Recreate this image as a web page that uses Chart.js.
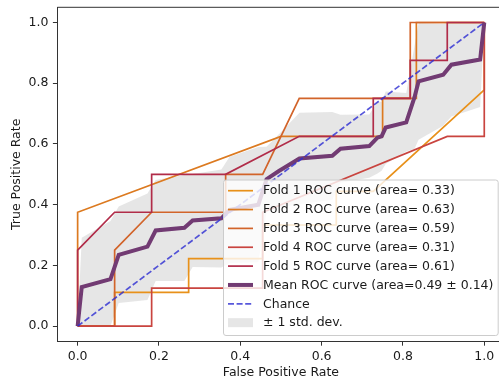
<!DOCTYPE html>
<html>
<head>
<meta charset="utf-8">
<script src="https://cdn.jsdelivr.net/npm/chart.js@4.4.1/dist/chart.umd.min.js"></script>
<style>
  html, body { margin: 0; padding: 0; overflow: hidden; background: #fff; }
  canvas { display: block; }
</style>
</head>
<body>
<canvas id="roc" width="506" height="381"></canvas>
<script>
// ── Datos ────────────────────────────────────────────────
var fold1Fpr = [0, 0.091, 0.091, 0.273, 0.273, 0.455, 0.455, 0.636, 0.636, 0.727, 1.0, 1.0];
var fold1Tpr = [0, 0, 0.111, 0.111, 0.222, 0.222, 0.333, 0.333, 0.444, 0.444, 0.778, 1.0];

var fold2Fpr = [0, 0, 0.5, 0.75, 0.75, 0.833, 0.833, 1.0];
var fold2Tpr = [0, 0.375, 0.625, 0.625, 0.75, 0.75, 1.0, 1.0];

var fold3Fpr = [0, 0.091, 0.091, 0.182, 0.364, 0.364, 0.455, 0.545, 0.818, 0.818, 1.0];
var fold3Tpr = [0, 0, 0.25, 0.375, 0.375, 0.5, 0.5, 0.75, 0.75, 1.0, 1.0];

var fold4Fpr = [0, 0.182, 0.182, 0.455, 0.455, 0.909, 1.0, 1.0];
var fold4Tpr = [0, 0, 0.125, 0.125, 0.375, 0.625, 0.625, 1.0];

var fold5Fpr = [0, 0, 0.091, 0.182, 0.182, 0.364, 0.545, 0.727, 0.727, 0.818, 0.818, 0.909, 0.909, 1.0];
var fold5Tpr = [0, 0.25, 0.375, 0.375, 0.5, 0.5, 0.625, 0.625, 0.75, 0.75, 0.875, 0.875, 1.0, 1.0];

var meanFpr = [0, 0.0101, 0.0808, 0.101, 0.1717, 0.1919, 0.2626, 0.2828, 0.3535, 0.3737, 0.4444, 0.4646, 0.4949,
               0.5051, 0.5455, 0.6263, 0.6465, 0.7172, 0.7374, 0.7475, 0.7576, 0.8081, 0.8283, 0.8384, 0.899,
               0.9192, 0.9899, 1.0];
var meanTpr = [0, 0.129, 0.155, 0.235, 0.262, 0.315, 0.324, 0.348, 0.355, 0.383, 0.400, 0.484, 0.511,
               0.519, 0.552, 0.561, 0.584, 0.593, 0.621, 0.625, 0.654, 0.671, 0.753, 0.806, 0.828,
               0.861, 0.878, 1.0];
var stdUpper = [0, 0.291, 0.346, 0.394, 0.437, 0.481, 0.498, 0.501, 0.516, 0.558, 0.590, 0.591, 0.632,
                0.646, 0.703, 0.705, 0.696, 0.697, 0.739, 0.739, 0.773, 0.768, 0.922, 0.998, 0.995,
                1.0, 1.0, 1.0];
var stdLower = [0, 0, 0, 0.076, 0.086, 0.149, 0.149, 0.195, 0.193, 0.208, 0.210, 0.376, 0.390,
                0.393, 0.401, 0.416, 0.472, 0.489, 0.503, 0.512, 0.534, 0.575, 0.583, 0.614, 0.660,
                0.690, 0.722, 1.0];

var chanceX = [0, 1];
var chanceY = [0, 1];

var axisTicks = [0, 0.2, 0.4, 0.6, 0.8, 1.0];

var labels = [
  'Fold 1 ROC curve (area= 0.33)',
  'Fold 2 ROC curve (area= 0.63)',
  'Fold 3 ROC curve (area= 0.59)',
  'Fold 4 ROC curve (area= 0.31)',
  'Fold 5 ROC curve (area= 0.61)',
  'Mean ROC curve (area=0.49 \u00b1 0.14)',
  'Chance',
  '\u00b1 1 std. dev.'
];

// ── Estilo ───────────────────────────────────────────────
var FONT = '"DejaVu Sans", "Liberation Sans", sans-serif';
var FS = 12.5;
var TXT = '#1a1a1a';
var SPINE = '#333333';
var COL = ['#e8911a', '#dc7a20', '#d2642a', '#c9443f', '#b12c49'];
var COL_MEAN = '#723b73';
var COL_CHANCE = 'rgba(45,45,210,0.8)';
var COL_BAND = 'rgba(128,128,128,0.2)';

function pts(xs, ys) {
  return xs.map(function (x, i) { return { x: x, y: ys[i] }; });
}

var folds = [[fold1Fpr, fold1Tpr], [fold2Fpr, fold2Tpr], [fold3Fpr, fold3Tpr], [fold4Fpr, fold4Tpr], [fold5Fpr, fold5Tpr]];

var datasets = folds.map(function (f, i) {
  return { label: labels[i], data: pts(f[0], f[1]), borderColor: COL[i], borderWidth: 1.7, order: 10 - i };
});
datasets.push({ label: labels[5], data: pts(meanFpr, meanTpr), borderColor: COL_MEAN, borderWidth: 4, order: 2 });
datasets.push({ label: labels[6], data: pts(chanceX, chanceY), borderColor: COL_CHANCE, borderWidth: 1.7, borderDash: [6, 2.6], order: 1 });
datasets.push({ label: 'upper', data: pts(meanFpr, stdUpper), borderColor: 'rgba(0,0,0,0)', borderWidth: 1, fill: false, order: 21 });
datasets.push({ label: labels[7], data: pts(meanFpr, stdLower), borderColor: 'rgba(0,0,0,0)', borderWidth: 1, fill: '-1', backgroundColor: COL_BAND, order: 20 });

// ── Marco superior/derecho (estilo matplotlib) ───────────
var spines = {
  id: 'spines',
  afterDraw: function (chart) {
    var a = chart.chartArea, ctx = chart.ctx;
    ctx.save();
    ctx.strokeStyle = SPINE; ctx.lineWidth = 1;
    ctx.beginPath();
    ctx.moveTo(a.left, a.top); ctx.lineTo(a.right, a.top); ctx.lineTo(a.right, a.bottom);
    ctx.stroke();
    ctx.restore();
  }
};

// ── Leyenda abajo a la derecha, como loc="lower right" ───
var rocLegend = {
  id: 'rocLegend',
  afterDraw: function (chart) {
    var ctx = chart.ctx;
    var bx = 223, by = 179.5, bw = 274.7, bh = 155.5;
    ctx.save();
    ctx.beginPath();
    ctx.roundRect(bx + 0.5, by + 0.5, bw, bh, 2.5);
    ctx.fillStyle = 'rgba(255,255,255,0.8)'; ctx.fill();
    ctx.strokeStyle = '#cccccc'; ctx.lineWidth = 1; ctx.stroke();
    var order = [0, 1, 2, 3, 4, 5, 6, 8];
    ctx.font = FS + 'px ' + FONT;
    ctx.textBaseline = 'middle';
    order.forEach(function (di, r) {
      var ds = chart.data.datasets[di];
      var y = by + 11.2 + r * 18.85;
      if (ds.fill) {
        ctx.fillStyle = COL_BAND;
        ctx.fillRect(228, y - 4.5, 25, 9);
      } else {
        ctx.beginPath();
        ctx.setLineDash(ds.borderDash || []);
        ctx.strokeStyle = ds.borderColor; ctx.lineWidth = ds.borderWidth;
        ctx.moveTo(228, y); ctx.lineTo(253, y);
        ctx.stroke();
        ctx.setLineDash([]);
      }
      ctx.fillStyle = TXT;
      ctx.fillText(ds.label, 263, y + 0.5);
    });
    ctx.restore();
  }
};

function fixTicks(scale) {
  scale.ticks = axisTicks.map(function (v) { return { value: v }; });
}

var axisFont = { family: FONT, size: FS };

new Chart(document.getElementById('roc'), {
  type: 'line',
  data: { datasets: datasets },
  options: {
    responsive: false, animation: false, devicePixelRatio: 1,
    layout: { padding: { top: 7.3, right: 1.4, left: 0, bottom: 0 } },
    elements: { point: { radius: 0 }, line: { tension: 0 } },
    plugins: { legend: { display: false }, tooltip: { enabled: false } },
    scales: {
      x: {
        type: 'linear', min: -0.05, max: 1.05,
        afterBuildTicks: fixTicks,
        afterFit: function (s) { s.height = 39.7; s.paddingLeft = 0; s.paddingRight = 0; },
        grid: { drawOnChartArea: false, drawTicks: true, tickLength: 4.4, color: SPINE, lineWidth: 1 },
        border: { display: true, color: SPINE, width: 1 },
        ticks: { padding: 4, color: TXT, font: axisFont, maxRotation: 0, autoSkip: false,
                 callback: function (v) { return v.toFixed(1); } },
        title: { display: true, text: 'False Positive Rate', color: TXT, font: axisFont, padding: { top: 0, bottom: 0.8 } }
      },
      y: {
        type: 'linear', min: -0.05, max: 1.05,
        afterBuildTicks: fixTicks,
        afterFit: function (s) { s.width = 57.3; s.paddingTop = 0; s.paddingBottom = 0; },
        grid: { drawOnChartArea: false, drawTicks: true, tickLength: 4.4, color: SPINE, lineWidth: 1 },
        border: { display: true, color: SPINE, width: 1 },
        ticks: { padding: 4.4, color: TXT, font: axisFont, autoSkip: false,
                 callback: function (v) { return v.toFixed(1); } },
        title: { display: true, text: 'True Positive Rate', color: TXT, font: axisFont, padding: { top: 9.5, bottom: 0 } }
      }
    }
  },
  plugins: [spines, rocLegend]
});
</script>
</body>
</html>
